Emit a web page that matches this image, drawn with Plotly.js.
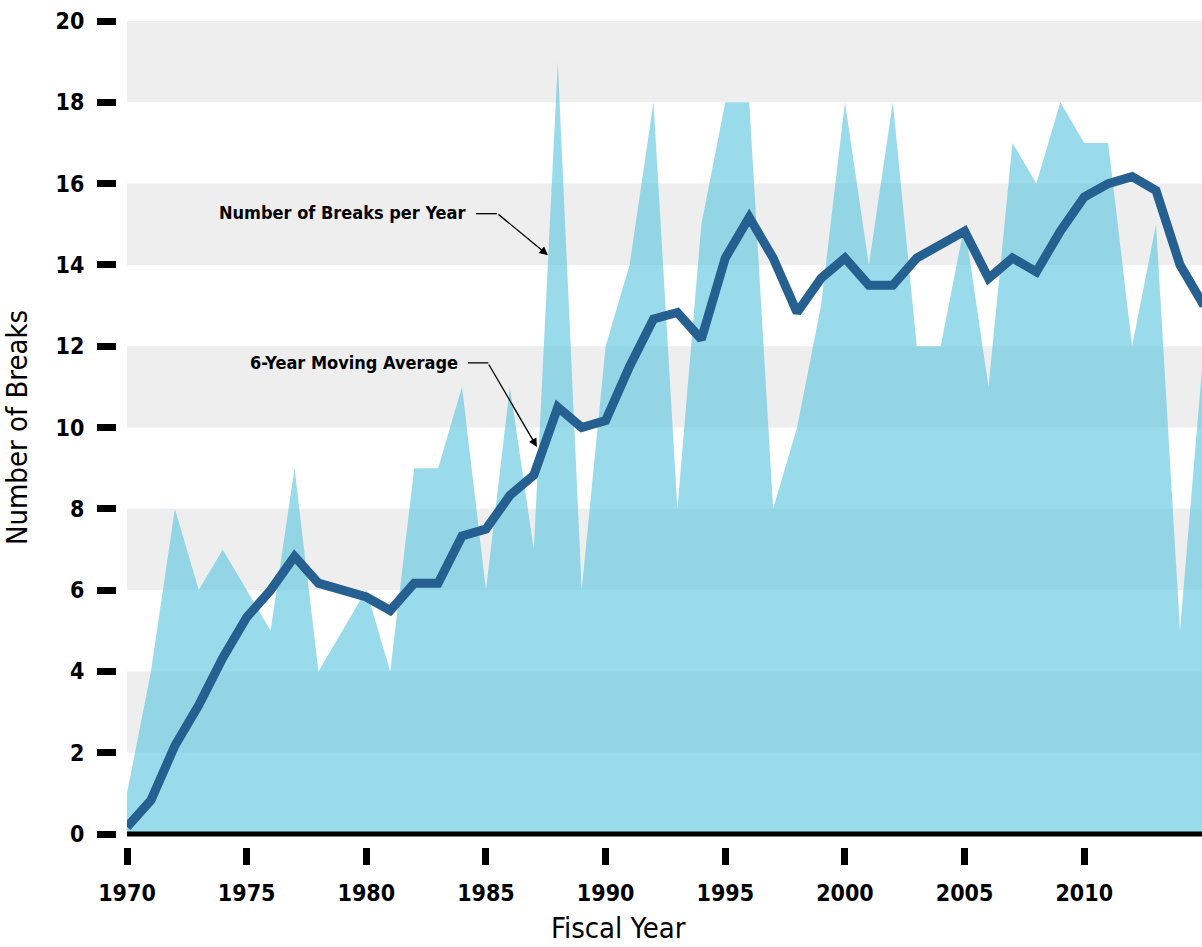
<!DOCTYPE html>
<html>
<head>
<meta charset="utf-8">
<script src="https://cdn.plot.ly/plotly-3.0.1.min.js"></script>
<style>
  html, body { margin: 0; padding: 0; background: #ffffff; }
  #chart { width: 1202px; height: 947px; }
</style>
</head>
<body>
<div id="chart"></div>
<script>
// ---- Data ----
const years = [1970,1971,1972,1973,1974,1975,1976,1977,1978,1979,
               1980,1981,1982,1983,1984,1985,1986,1987,1988,1989,
               1990,1991,1992,1993,1994,1995,1996,1997,1998,1999,
               2000,2001,2002,2003,2004,2005,2006,2007,2008,2009,
               2010,2011,2012,2013,2014,2015];

const breaksPerYear = [1,4,8,6,7,6,5,9,4,5,
                       6,4,9,9,11,6,11,7,19,6,
                       12,14,18,8,15,18,18,8,10,13,
                       18,14,18,12,12,15,11,17,16,18,
                       17,17,12,15,5,12];

const movingAverage = [0.17,0.83,2.17,3.17,4.33,5.33,6.0,6.83,6.17,6.0,
                       5.83,5.5,6.17,6.17,7.33,7.5,8.33,8.83,10.5,10.0,
                       10.17,11.5,12.67,12.83,12.17,14.17,15.17,14.17,12.83,13.67,
                       14.17,13.5,13.5,14.17,14.5,14.83,13.67,14.17,13.83,14.83,
                       15.67,16.0,16.17,15.83,14.0,13.0];

const xTickVals = [1970,1975,1980,1985,1990,1995,2000,2005,2010];
const yTickVals = [0,2,4,6,8,10,12,14,16,18,20];
const bandRanges = [[18,20],[14,16],[10,12],[6,8],[2,4]];

const labelAreaText = "Number of Breaks per Year";
const labelLineText = "6-Year Moving Average";
const xTitle = "Fiscal Year";
const yTitle = "Number of Breaks";

// ---- Styling ----
const COND = "'Liberation Sans Narrow', 'DejaVu Sans Condensed', 'Arial Narrow', sans-serif";
const X_END = 2014.92;

const shapes = bandRanges.map(r => ({
  type: 'rect', xref: 'x', yref: 'y',
  x0: 1970, x1: X_END, y0: r[0], y1: r[1],
  fillcolor: '#eeeeee', line: {width: 0}, layer: 'below'
}));
// thick baseline drawn over the fill (paper-referenced so it is not clipped)
shapes.push({type: 'line', xref: 'paper', yref: 'paper', x0: 127/1202, x1: 1, y0: 13/826, y1: 13/826,
             line: {color: '#000', width: 5}, layer: 'above'});
// horizontal leader segments of the callouts
shapes.push({type: 'line', xref: 'x', yref: 'y', x0: 1984.58, x1: 1985.46, y0: 15.26, y1: 15.26,
             line: {color: '#000', width: 1.3}});
shapes.push({type: 'line', xref: 'x', yref: 'y', x0: 1984.25, x1: 1985.1, y0: 11.59, y1: 11.59,
             line: {color: '#000', width: 1.3}});

const traces = [
  {
    x: years, y: breaksPerYear, type: 'scatter', mode: 'none',
    fill: 'tozeroy', fillcolor: 'rgba(100,200,225,0.65)',
    name: labelAreaText, hoverinfo: 'x+y'
  },
  {
    x: years, y: movingAverage, type: 'scatter', mode: 'lines',
    line: {color: '#256090', width: 9},
    name: labelLineText, hoverinfo: 'x+y'
  }
];

const layout = {
  width: 1202, height: 947,
  margin: {l: 0, r: 0, t: 21, b: 100, pad: 0},
  paper_bgcolor: '#ffffff', plot_bgcolor: '#ffffff',
  showlegend: false,
  font: {family: COND, color: '#000'},
  xaxis: {
    domain: [127/1202, 1],
    range: [1970, X_END],
    anchor: 'free', position: 0,
    tickmode: 'array', tickvals: xTickVals, ticktext: xTickVals.map(String),
    ticks: 'outside', ticklen: 17, tickwidth: 7, tickcolor: '#000',
    ticklabelstandoff: 8,
    tickfont: {family: COND, size: 23, weight: 'bold', color: '#000'},
    showgrid: false, zeroline: false, showline: false, automargin: false
  },
  yaxis: {
    domain: [13/826, 1],
    range: [0, 20],
    anchor: 'free', position: 116/1202,
    tickmode: 'array', tickvals: yTickVals, ticktext: yTickVals.map(String),
    ticks: 'outside', ticklen: 19, tickwidth: 7, tickcolor: '#000',
    ticklabelstandoff: 8,
    tickfont: {family: COND, size: 23, weight: 'bold', color: '#000'},
    showgrid: false, showline: false, zeroline: false,
    automargin: false,
    title: {text: yTitle, font: {family: COND, size: 29, color: '#000'}, standoff: 23}
  },
  shapes: shapes,
  annotations: [
    {
      text: labelAreaText, xref: 'x', yref: 'y', x: 1984.22, y: 15.28,
      xanchor: 'right', yanchor: 'middle', showarrow: false,
      font: {family: COND, size: 18, weight: 'bold', color: '#000'}
    },
    {
      text: labelLineText, xref: 'x', yref: 'y', x: 1983.92, y: 11.6,
      xanchor: 'right', yanchor: 'middle', showarrow: false,
      font: {family: COND, size: 18, weight: 'bold', color: '#000'}
    },
    {
      text: '', xref: 'x', yref: 'y', x: 1987.59, y: 14.24,
      showarrow: true, arrowhead: 2, arrowsize: 1.3, arrowwidth: 1.3, arrowcolor: '#000',
      ax: -51, ay: -42, standoff: 0
    },
    {
      text: '', xref: 'x', yref: 'y', x: 1987.13, y: 9.52,
      showarrow: true, arrowhead: 2, arrowsize: 1.3, arrowwidth: 1.3, arrowcolor: '#000',
      ax: -49, ay: -84, standoff: 0
    },
    {
      text: xTitle, xref: 'paper', yref: 'paper', x: 618/1202, y: -100/826,
      xanchor: 'center', yanchor: 'bottom', showarrow: false,
      font: {family: COND, size: 29, color: '#000'}
    }
  ]
};

Plotly.newPlot('chart', traces, layout, {displayModeBar: false, staticPlot: true});
</script>
</body>
</html>
